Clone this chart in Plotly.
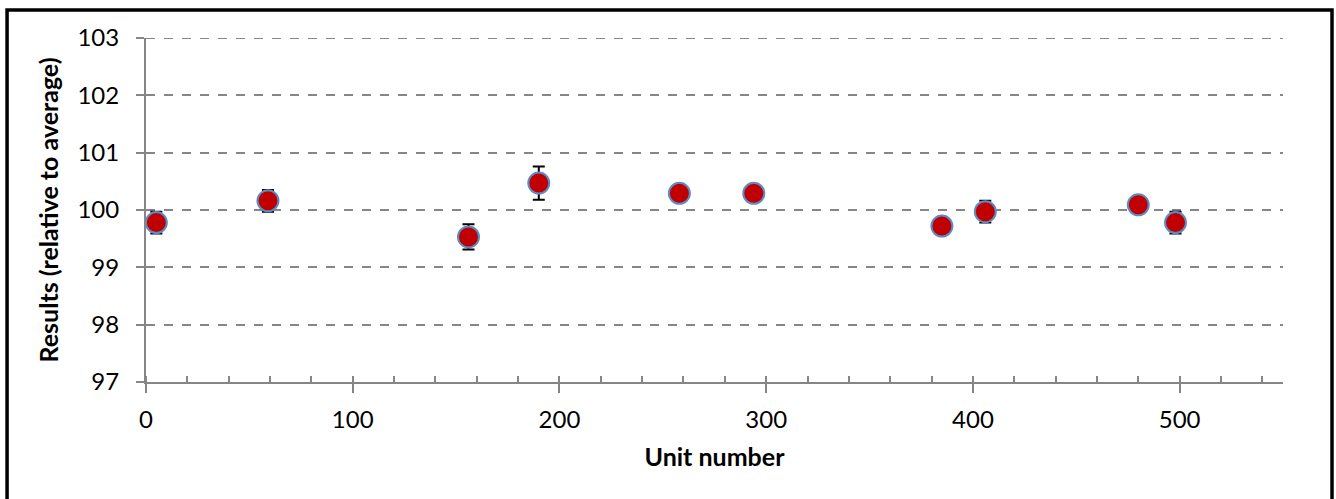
import plotly.graph_objects as go

# Data
unit_number = [5, 59, 156, 190, 258, 294, 385, 406, 480, 498]
result = [99.78, 100.16, 99.53, 100.47, 100.29, 100.29, 99.72, 99.97, 100.09, 99.78]
uncertainty = [0.19, 0.19, 0.22, 0.29, 0.08, 0.08, 0.08, 0.19, 0.08, 0.19]

x_ticks = [0, 100, 200, 300, 400, 500]
y_ticks = [97, 98, 99, 100, 101, 102, 103]

FONT = "Lato"
AXIS_GREY = "#868686"

fig = go.Figure()
fig.add_trace(go.Scatter(
    x=unit_number, y=result, mode="markers",
    marker=dict(size=21, color="#C00000", line=dict(color="#5B8CC8", width=2)),
    error_y=dict(type="data", array=uncertainty, visible=True,
                 color="black", thickness=2, width=6),
    showlegend=False,
))

fig.update_layout(
    width=1336, height=499,
    margin=dict(l=146, r=53, t=38, b=117),
    paper_bgcolor="white", plot_bgcolor="white",
    font=dict(family=FONT, size=24, color="black"),
    xaxis=dict(
        range=[0, 550], tickvals=x_ticks, ticktext=[str(v) for v in x_ticks],
        showgrid=False, zeroline=False,
        showline=True, linecolor=AXIS_GREY, linewidth=2,
        ticks="outside", ticklen=9, tickwidth=2, tickcolor=AXIS_GREY,
        ticklabelstandoff=6,
        minor=dict(dtick=20, tick0=0, ticks="inside", ticklen=6,
                   tickwidth=1.5, tickcolor=AXIS_GREY, showgrid=False),
        title=dict(text="<b>Unit number</b>", font=dict(family=FONT, size=25),
                   standoff=17),
    ),
    yaxis=dict(
        range=[97, 103], tickvals=y_ticks, ticktext=[str(v) for v in y_ticks],
        showgrid=True, gridcolor="#868686", gridwidth=2, griddash="dash",
        zeroline=False,
        showline=True, linecolor=AXIS_GREY, linewidth=2,
        ticks="outside", ticklen=8, tickwidth=2, tickcolor=AXIS_GREY,
        ticklabelstandoff=12,
        title=dict(text="<b>Results (relative to average)</b>",
                   font=dict(family=FONT, size=25), standoff=12),
    ),
)

# Top gridline (plotly omits grid at the range edge)
fig.add_shape(type="line", xref="paper", yref="y", x0=0, x1=1,
              y0=y_ticks[-1], y1=y_ticks[-1],
              line=dict(color="#868686", width=2, dash="dash"), layer="below")

# Outer chart frame
fig.add_shape(type="rect", xref="paper", yref="paper",
              x0=-0.1222, x1=1.0431, y0=-0.40, y1=1.0814,
              line=dict(color="black", width=3.5), fillcolor="rgba(0,0,0,0)",
              layer="below")

fig.write_html("out.html")
